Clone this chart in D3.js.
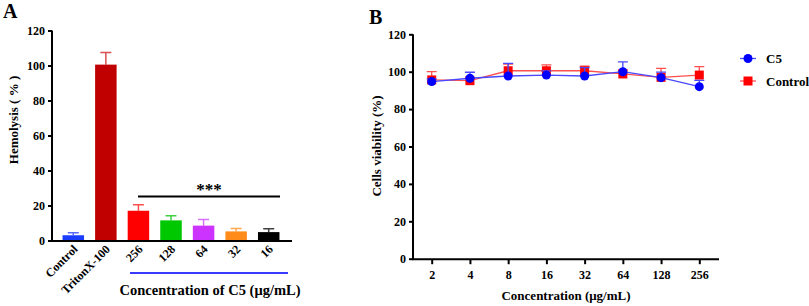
<!DOCTYPE html>
<html>
<head>
<meta charset="utf-8">
<script src="https://cdn.jsdelivr.net/npm/d3@7"></script>
<style>
body { margin: 0; background: #fff; }
</style>
</head>
<body>
<div id="chart"></div>
<script>
// panel A - hemolysis
var groups = ["Control", "TritonX-100", "256", "128", "64", "32", "16"];
var hemolysis = [3, 100.5, 17, 11.5, 8.5, 5.2, 4.8];
var hemolysisErr = [1.5, 7, 3.5, 2.7, 3.5, 1.6, 1.9];
var barColors = ["#1a3cff", "#c00000", "#ff0000", "#00c800", "#cc33ff", "#ff8c1a", "#000000"];
var errColors = ["#5a6cff", "#d85050", "#ff5050", "#40d040", "#d870ff", "#ffa850", "#404040"];

// panel B - viability
var concentrations = ["2", "4", "8", "16", "32", "64", "128", "256"];
var c5 = [94.7, 96.5, 97.7, 98.2, 97.7, 100, 96.8, 92];
var c5Err = [1.5, 3.2, 6.8, 2.2, 4.5, 5.3, 3, 3.4];
var control = [95.6, 95.2, 100.5, 100.5, 100.5, 98.8, 97, 98.2];
var controlErr = [4.4, 1.5, 3.5, 3.2, 2.5, 2, 4.8, 4.5];
var yTicks = [0, 20, 40, 60, 80, 100, 120];

var w = 809;
var h = 306;
var serif = "'Liberation Serif', 'Times New Roman', serif";

var svg = d3.select("#chart").append("svg").attr("width", w).attr("height", h)
    .attr("font-family", serif);

function label(sel, size) {
    return sel.style("font-family", serif).style("font-weight", "bold").style("font-size", size).attr("fill", "#000");
}

// ---------- A ----------
var xA = d3.scaleBand().domain(groups).range([57, 285]).paddingInner(0.34).paddingOuter(0.17);
var yA = d3.scaleLinear().domain([0, 120]).range([240.5, 30.5]);

label(svg.append("text").attr("x", 3).attr("y", 18), "20px").text("A");

var gA = svg.append("g");

// error bars (upper only)
gA.selectAll(".errA")
    .data(hemolysis)
    .enter()
    .append("path")
    .attr("fill", "none")
    .attr("stroke", (d, i) => errColors[i])
    .attr("stroke-width", 1.5)
    .attr("d", function(d, i) {
        var cx = xA(groups[i]) + xA.bandwidth() / 2;
        var top = yA(d + hemolysisErr[i]);
        return "M" + cx + "," + yA(d) + "V" + top + "M" + (cx - 5.5) + "," + top + "H" + (cx + 5.5);
    });

gA.selectAll("rect")
    .data(hemolysis)
    .enter()
    .append("rect")
    .attr("x", (d, i) => xA(groups[i]))
    .attr("y", (d) => yA(d))
    .attr("width", xA.bandwidth())
    .attr("height", (d) => yA(0) - yA(d))
    .attr("fill", (d, i) => barColors[i]);

// y axis
var axA = svg.append("g")
    .attr("transform", "translate(52,0)")
    .call(d3.axisLeft(yA).tickValues(yTicks).tickSize(4).tickPadding(3));
axA.select(".domain").attr("stroke-width", 2).attr("d", "M0," + yA(120) + "V" + (yA(0) + 1));
axA.selectAll(".tick line").attr("stroke-width", 2);
label(axA.selectAll("text"), "12px");

// x axis line
svg.append("line")
    .attr("x1", 51).attr("x2", 292)
    .attr("y1", yA(0) + 0.5).attr("y2", yA(0) + 0.5)
    .attr("stroke", "#000").attr("stroke-width", 2);

// rotated group labels
label(svg.selectAll(".labA")
    .data(groups)
    .enter()
    .append("text")
    .attr("text-anchor", "end")
    .attr("transform", (d) => "translate(" + (xA(d) + xA.bandwidth() / 2 + 5) + ",250) rotate(-45)"), "12px")
    .text((d) => d);

// significance
svg.append("line")
    .attr("x1", 138).attr("x2", 280).attr("y1", 196.5).attr("y2", 196.5)
    .attr("stroke", "#000").attr("stroke-width", 2);
label(svg.append("text").attr("x", 209).attr("y", 195).attr("text-anchor", "middle"), "17px").text("***");

// concentration bracket line
svg.append("line")
    .attr("x1", 130).attr("x2", 288).attr("y1", 273).attr("y2", 273)
    .attr("stroke", "#3b3bff").attr("stroke-width", 2);
label(svg.append("text").attr("x", 210).attr("y", 295).attr("text-anchor", "middle"), "14.5px")
    .text("Concentration of C5 (μg/mL)");

label(svg.append("text")
    .attr("transform", "translate(18,120) rotate(-90)")
    .attr("text-anchor", "middle"), "13px")
    .text("Hemolysis ( % )");

// ---------- B ----------
var xB = d3.scalePoint().domain(concentrations).range([431.7, 699.3]);
var yB = d3.scaleLinear().domain([0, 120]).range([258.7, 34.3]);

label(svg.append("text").attr("x", 369).attr("y", 24), "20px").text("B");

var axB = svg.append("g")
    .attr("transform", "translate(413,0)")
    .call(d3.axisLeft(yB).tickValues(yTicks).tickSize(4).tickPadding(3));
axB.select(".domain").attr("stroke-width", 2).attr("d", "M0," + yB(120) + "V" + (yB(0) + 1));
axB.selectAll(".tick line").attr("stroke-width", 2);
label(axB.selectAll("text"), "12px");

var axBx = svg.append("g")
    .attr("transform", "translate(0," + (yB(0) + 0.5) + ")")
    .call(d3.axisBottom(xB).tickSize(5).tickPadding(6));
axBx.select(".domain").attr("stroke-width", 2).attr("d", "M412,0H719");
axBx.selectAll(".tick line").attr("stroke-width", 2);
label(axBx.selectAll("text"), "12px");

label(svg.append("text")
    .attr("transform", "translate(381,146) rotate(-90)")
    .attr("text-anchor", "middle"), "13px")
    .text("Cells viability (%)");
label(svg.append("text").attr("x", 566).attr("y", 300).attr("text-anchor", "middle"), "13px")
    .text("Concentration (μg/mL)");

var series = [
    { name: "Control", values: control, err: controlErr, color: "#ff0000", line: "#ff5050", shape: "square" },
    { name: "C5", values: c5, err: c5Err, color: "#0000ff", line: "#4848ff", shape: "circle" }
];

var line = d3.line().x((d, i) => xB(concentrations[i])).y((d) => yB(d));

series.forEach(function(s) {
    var g = svg.append("g");
    g.selectAll(".err")
        .data(s.values)
        .enter()
        .append("path")
        .attr("fill", "none")
        .attr("stroke", s.line)
        .attr("stroke-width", 1.3)
        .attr("d", function(d, i) {
            var cx = xB(concentrations[i]);
            var top = yB(d + s.err[i]);
            return "M" + cx + "," + yB(d) + "V" + top + "M" + (cx - 5) + "," + top + "H" + (cx + 5);
        });
    g.append("path")
        .datum(s.values)
        .attr("fill", "none")
        .attr("stroke", s.line)
        .attr("stroke-width", 1.3)
        .attr("d", line);
    if (s.shape === "circle") {
        g.selectAll("circle")
            .data(s.values)
            .enter()
            .append("circle")
            .attr("cx", (d, i) => xB(concentrations[i]))
            .attr("cy", (d) => yB(d))
            .attr("r", 4.5)
            .attr("fill", s.color);
    } else {
        g.selectAll("rect")
            .data(s.values)
            .enter()
            .append("rect")
            .attr("x", (d, i) => xB(concentrations[i]) - 4.5)
            .attr("y", (d) => yB(d) - 4.5)
            .attr("width", 9)
            .attr("height", 9)
            .attr("fill", s.color);
    }
});

// legend
var legend = [series[1], series[0]];
var lg = svg.selectAll(".legend")
    .data(legend)
    .enter()
    .append("g")
    .attr("transform", (d, i) => "translate(748," + (58.5 + i * 22.5) + ")");
lg.append("line").attr("x1", -8).attr("x2", 8).attr("stroke", (d) => d.line).attr("stroke-width", 1.3);
lg.filter((d) => d.shape === "circle").append("circle").attr("r", 4.5).attr("fill", (d) => d.color);
lg.filter((d) => d.shape === "square").append("rect")
    .attr("x", -4.5).attr("y", -4.5).attr("width", 9).attr("height", 9).attr("fill", (d) => d.color);
label(lg.append("text").attr("x", 18).attr("y", 4.5), "13px").text((d) => d.name);
</script>
</body>
</html>
